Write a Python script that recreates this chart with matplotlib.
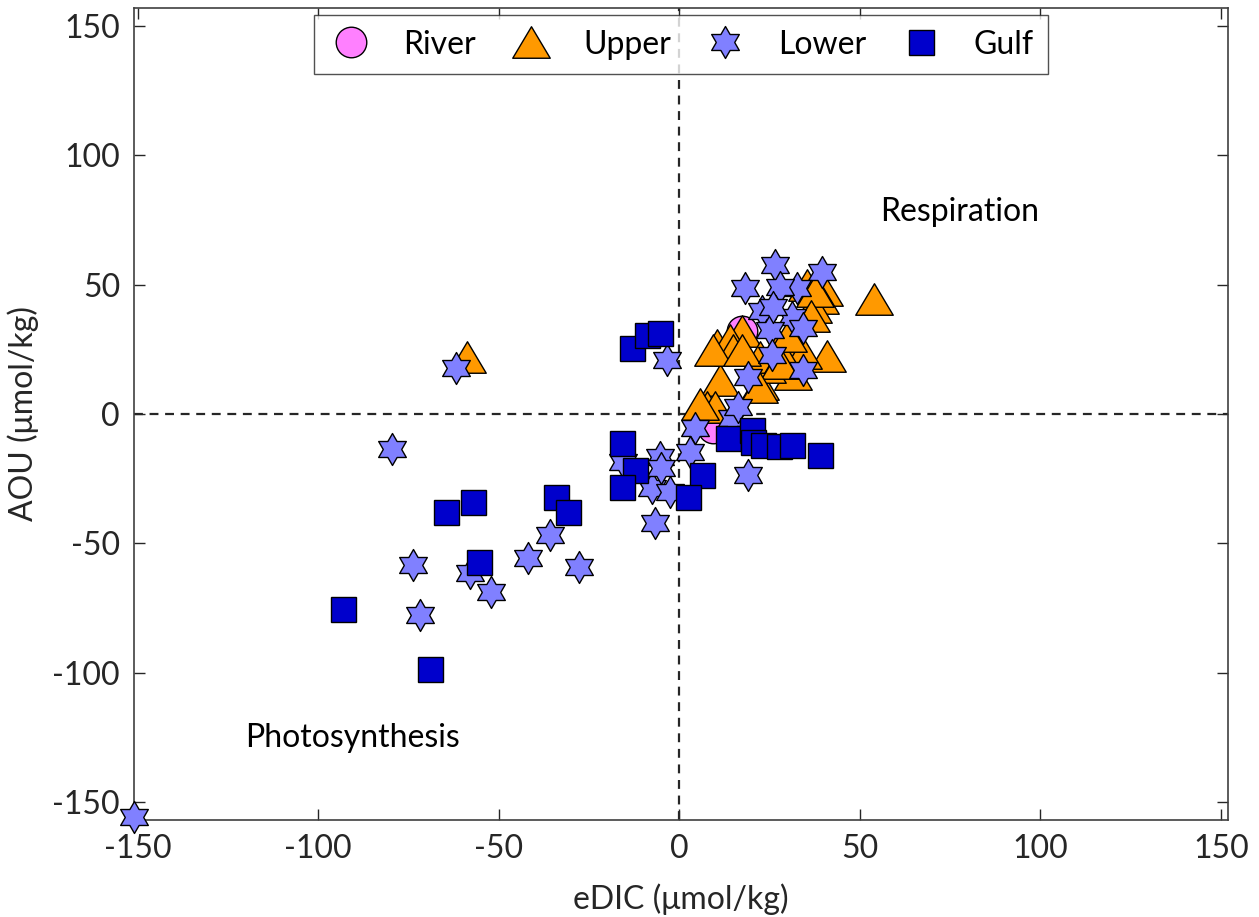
import matplotlib
matplotlib.use("Agg")
import matplotlib.pyplot as plt
import numpy as np
from matplotlib.path import Path

plt.rcParams['font.family'] = ['Lato', 'DejaVu Sans']
plt.rcParams['axes.unicode_minus'] = False

# River (circles)
river_x = [17.4, 9.4]
river_y = [32.0, -5.4]

# Upper (triangles)
upper_x = [-58.7, 54.0, 41.0, 17.4, 10.5, 11.3, 7.7, 10.0, 22.4, 31.6,
           40.0, 39.0, 37.0, 35.4, 27.0, 14.0, 15.0, 24.3, 32.7, 34.3,
           22.4, 28.8, 28.0, 9.4, 17.4, 22.0, 5.8, 37.5, 36.5, 30.0]
upper_y = [22.0, 44.5, 22.5, 32.0, 26.5, 13.0, 2.7, 2.7, 11.5, 15.5,
           48.0, 45.0, 41.4, 50.0, 26.0, 28.6, 24.7, 18.0, 24.7, 23.6,
           22.0, 22.0, 19.7, 24.7, 24.7, 10.5, 4.0, 47.5, 38.0, 30.0]

# Lower (hexagrams)
lower_x = [-151.0, -79.5, -73.6, -71.7, -57.8, -52.0, -41.8, -35.7, -27.7, -61.7,
           -3.3, -15.5, -5.3, -7.5, -2.5, -6.6, 4.4, 3.0, -5.0, 19.0,
           14.7, 16.3, 26.6, 18.3, 39.6, 23.0, 32.7, 31.3, 25.2, 34.3,
           28.0, 26.0, 19.0, 34.3, 25.7]
lower_y = [-156.0, -13.6, -58.4, -77.7, -61.5, -68.8, -55.7, -46.8, -59.0, 17.8,
           21.0, -18.6, -16.6, -28.6, -30.0, -42.0, -5.4, -14.7, -21.0, -23.6,
           -1.5, 2.7, 57.6, 48.7, 55.0, 40.0, 48.7, 37.5, 32.5, 33.2,
           49.0, 41.4, 14.3, 17.0, 22.8]

# Gulf (squares)
gulf_x = [-93.0, -69.0, -64.5, -57.0, -55.4, -34.0, -30.7, -13.0, -8.9, -5.3,
          -15.8, -12.2, -15.8, 6.4, 2.5, 13.6, 20.2, 20.5, 23.2, 27.7,
          31.3, 39.0]
gulf_y = [-75.4, -98.6, -38.0, -34.0, -57.2, -32.0, -38.0, 25.5, 30.5, 31.3,
          -11.3, -21.6, -28.3, -23.6, -32.0, -9.4, -6.2, -10.8, -12.0, -12.4,
          -12.0, -16.0]

ticks = [-150, -100, -50, 0, 50, 100, 150]

# hexagram marker like matlab's 'h'
ang = np.pi / 2 + np.arange(12) * np.pi / 6
rad = np.where(np.arange(12) % 2 == 0, 1.0, 1 / np.sqrt(3))
verts = np.column_stack([rad * np.cos(ang), rad * np.sin(ang)])
verts = np.vstack([verts, verts[:1]])
hexagram = Path(verts, closed=True)

# flatter triangle, closer to matlab's '^'
tri = Path([(-1, -0.84), (1, -0.84), (0, 0.84), (-1, -0.84)], closed=True)

fig = plt.figure(figsize=(12.59, 9.17), dpi=100)
ax = fig.add_axes([0.1064, 0.1058, 0.869, 0.8855])

ax.axhline(0, color='#262626', ls=(0, (4, 3)), lw=1.6, zorder=1)
ax.axvline(0, color='#262626', ls=(0, (4, 3)), lw=1.6, zorder=1)

ax.plot(river_x, river_y, 'o', ms=22, mfc='#FF80FF', mec='black', mew=1.0,
        label='River', zorder=2)
ax.plot(upper_x, upper_y, marker=tri, ls='none', ms=27, mfc='#FF9900',
        mec='black', mew=1.0, label='Upper', zorder=3)
ax.plot(lower_x, lower_y, marker=hexagram, ls='none', ms=23, mfc='#8080FF',
        mec='black', mew=1.0, label='Lower', zorder=4, clip_on=False)
ax.plot(gulf_x, gulf_y, 's', ms=18, mfc='#0000CC', mec='black', mew=1.0,
        label='Gulf', zorder=5)

ax.set_xlim(-151, 152)
ax.set_ylim(-157, 157)
ax.set_xticks(ticks)
ax.set_yticks(ticks)
ax.tick_params(direction='in', length=8, width=1, top=True, right=True,
               labelsize=23, colors='#262626', pad=10)
for s in ax.spines.values():
    s.set_color('#404040')
    s.set_linewidth(1.2)

ax.set_xlabel('eDIC (μmol/kg)', fontsize=23, color='#262626', labelpad=14)
ax.set_ylabel('AOU (μmol/kg)', fontsize=23, color='#262626', labelpad=10)

ax.text(77.8, 78, 'Respiration', fontsize=23, ha='center', va='center')
ax.text(-90.5, -125.4, 'Photosynthesis', fontsize=23, ha='center', va='center')

leg = ax.legend(loc='upper center', ncol=4, fontsize=23, frameon=True,
                fancybox=False, edgecolor='#262626', markerscale=1.0,
                handlelength=1.4, handletextpad=0.95, columnspacing=1.0,
                borderpad=0.45, borderaxespad=0,
                bbox_to_anchor=(0.5, 0.991))
leg.get_frame().set_linewidth(1.0)

fig.savefig('out.png', dpi=100)
